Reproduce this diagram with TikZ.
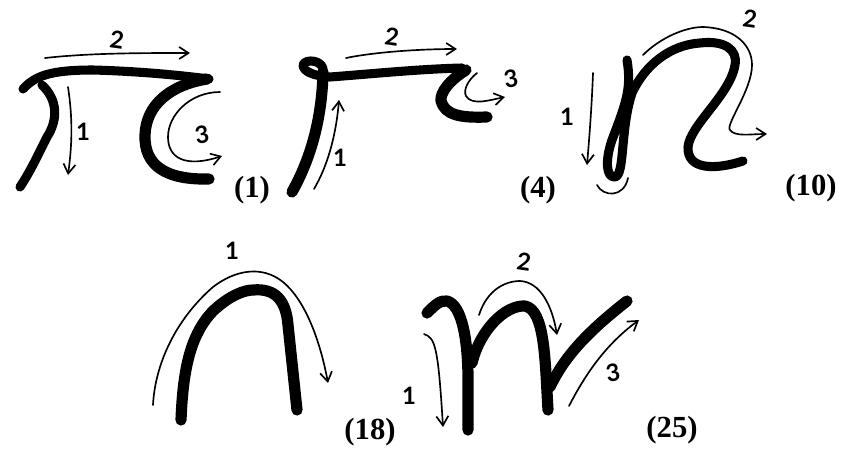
\documentclass[tikz,border=0pt]{standalone}
\usepackage{fontspec}
\setmainfont{Liberation Serif}
\setsansfont{Lato}
\usetikzlibrary{arrows.meta}
\tikzset{
  penstroke/.style={line width=6.8pt,line cap=round,line join=round},
  penbold/.style={line width=8.4pt,line cap=round,line join=round},
  guide/.style={line width=1.25pt,line cap=round,-{Straight Barb[length=7pt,width=9pt,line width=1.25pt]}},
  guideplain/.style={line width=1.25pt,line cap=round},
  handdigit/.style={font=\sffamily\fontsize{18}{18}\selectfont\bfseries},
  figlabel/.style={font=\fontsize{23}{24}\selectfont\bfseries}
}
\begin{document}
\begin{tikzpicture}[x=0.75pt,y=-0.75pt]
  \useasboundingbox (0,0) rectangle (841,454);
  % form 1
  \draw[penstroke] (23,89) .. controls (35,76) and (50,70) .. (93,70) .. controls (130,71) and (170,74) .. (209,79);
  \draw[penstroke] (42,85) .. controls (58,100) and (58,120) .. (47,137) .. controls (38,155) and (30,172) .. (20,187);
  \draw[penbold] (207,79) .. controls (170,85) and (146,105) .. (145,135) .. controls (144,165) and (165,180) .. (209,179);
  \draw[guide] (45,58) .. controls (90,53) and (140,53) .. (190,53);
  \draw[guide] (68,87) .. controls (73,120) and (72,145) .. (68,175);
  \draw[guide] (220,92) .. controls (190,92) and (168,115) .. (168,137) .. controls (168,158) and (185,168) .. (222,156);
  \node[handdigit,rotate=-8] (a2) at (117,40) {2};
  \node[handdigit] (a1) at (83,132) {1};
  \node[handdigit,rotate=10] (a3) at (202,135) {3};
  \node[figlabel] (fig1) at (252,190) {(1)};
  % form 4
  \draw[penbold] (292,192) .. controls (310,160) and (322,120) .. (323,72);
  \draw[penstroke] (323,72) .. controls (325,60) and (305,58) .. (303,65) .. controls (303,72) and (315,76) .. (330,77) .. controls (370,74) and (420,69) .. (462,68);
  \draw[penbold] (466,70) .. controls (450,80) and (440,92) .. (441,101) .. controls (445,115) and (460,118) .. (487,117);
  \draw[guide] (346,58) .. controls (375,52) and (420,49) .. (457,49);
  \draw[guide] (314,189) .. controls (328,165) and (336,135) .. (339,100);
  \draw[guide] (477,73) .. controls (468,80) and (463,90) .. (466,96) .. controls (472,106) and (490,100) .. (505,97);
  \node[handdigit,rotate=-8] (b2) at (392,37) {2};
  \node[handdigit] (b1) at (340,158) {1};
  \node[handdigit,rotate=10] (b3) at (511,79) {3};
  \node[figlabel] (fig4) at (538,190) {(4)};
  % form 10
  \draw[penstroke] (627,60) .. controls (632,90) and (625,105) .. (612,140) .. controls (605,160) and (606,178) .. (615,177) .. controls (625,175) and (620,130) .. (632,93) .. controls (645,65) and (670,45) .. (700,43) .. controls (725,40) and (738,50) .. (735,65) .. controls (730,95) and (690,125) .. (688,147) .. controls (687,170) and (715,170) .. (743,161);
  \draw[guide] (643,55) .. controls (660,38) and (685,27) .. (703,27) .. controls (735,28) and (752,45) .. (752,65) .. controls (752,90) and (725,125) .. (730,130) .. controls (735,137) and (750,134) .. (767,134);
  \draw[guide] (593,73) .. controls (592,100) and (590,130) .. (587,165);
  \draw[guideplain] (597,185) .. controls (603,197) and (624,198) .. (628,178);
  \node[handdigit,rotate=-8] (c2) at (750,19) {2};
  \node[handdigit] (c1) at (567,117) {1};
  \node[figlabel] (fig10) at (811,188) {(10)};
  % form 18
  \draw[penbold] (181,420) .. controls (183,370) and (190,335) .. (213,311) .. controls (230,295) and (245,290) .. (253,290) .. controls (275,288) and (286,300) .. (288,325) -- (297,410);
  \draw[guide] (153,405) .. controls (155,365) and (175,320) .. (213,287) .. controls (235,270) and (262,265) .. (283,282) .. controls (305,300) and (320,340) .. (328,383);
  \node[handdigit] (d1) at (232,251) {1};
  \node[figlabel] (fig18) at (370,432) {(18)};
  % form 25
  \draw[penbold] (427,313) .. controls (435,305) and (440,300) .. (447,301) .. controls (462,305) and (468,340) .. (468,380) -- (468,430);
  \draw[penbold] (472,363) .. controls (480,330) and (505,305) .. (525,306) .. controls (545,310) and (545,360) .. (548,410);
  \draw[penbold] (550,387) .. controls (565,355) and (590,330) .. (627,301);
  \draw[guide] (424,334) .. controls (435,338) and (438,345) .. (443,427);
  \draw[guide] (479,315) .. controls (487,290) and (505,281) .. (520,281) .. controls (540,282) and (552,305) .. (557,335);
  \draw[guide] (569,406) .. controls (585,375) and (605,345) .. (639,320);
  \node[handdigit] (e1) at (409,396) {1};
  \node[handdigit,rotate=-8] (e2) at (524,262) {2};
  \node[handdigit,rotate=10] (e3) at (613,373) {3};
  \node[figlabel] (fig25) at (672,430) {(25)};
\end{tikzpicture}
\end{document}
